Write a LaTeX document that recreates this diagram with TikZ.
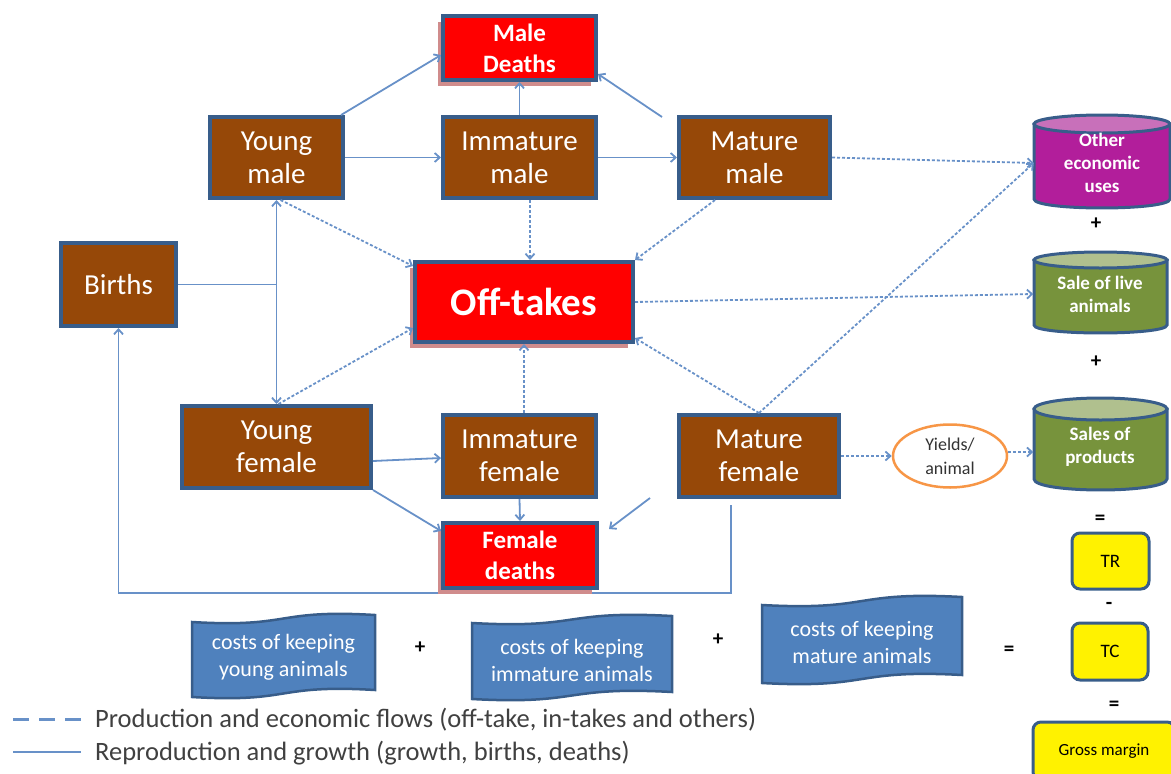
\documentclass[tikz,border=0pt]{standalone}
\usepackage{fontspec}
\setmainfont{Carlito}
\usetikzlibrary{arrows.meta,shapes.geometric,shadows}
\definecolor{brownc}{RGB}{150,72,8}
\definecolor{bord}{RGB}{56,93,138}
\definecolor{linec}{RGB}{104,145,200}
\definecolor{shadc}{RGB}{208,140,140}
\definecolor{purpc}{RGB}{178,30,155}
\definecolor{purptop}{RGB}{200,112,186}
\definecolor{greenc}{RGB}{119,147,60}
\definecolor{greentop}{RGB}{176,192,142}
\definecolor{wavec}{RGB}{79,129,189}
\definecolor{orangec}{RGB}{247,150,70}
\definecolor{legc}{RGB}{64,64,64}
\pgfdeclarelayer{bg}
\pgfsetlayers{bg,main}
\newcommand{\drawwave}[5]{%
  \pgfmathsetmacro\wA{#1+0.55*(#2-#1)}%
  \pgfmathsetmacro\wB{#1+0.45*(#2-#1)}%
  \filldraw[wavestyle] (#1,#3) .. controls (\wA,#3+6) and (\wB,#4-6) .. (#2,#4)
    -- (#2,#4+#5) .. controls (\wB,#4+#5-6) and (\wA,#3+#5+6) .. (#1,#3+#5) -- cycle;}
\newcommand{\drawcyl}[7]{% x0 x1 ytop ybot ry body top
  \pgfmathsetmacro\cA{(#1+#2)/2}%
  \pgfmathsetmacro\cR{(#2-#1)/2}%
  \filldraw[draw=bord,line width=3pt,fill=#6] (#1,#3) -- (#1,#4)
    .. controls (#1,#4+1.33*#5) and (#2,#4+1.33*#5) .. (#2,#4) -- (#2,#3) -- cycle;
  \filldraw[draw=bord,line width=3pt,fill=#7] (\cA,#3) ellipse [x radius=\cR pt, y radius=#5 pt];}
\begin{document}
\begin{tikzpicture}[x=1pt,y=-1pt,
  >={Straight Barb[length=5pt,width=9pt]},
  brownbox/.style={draw=bord,line width=4pt,fill=brownc,text=white,align=center,inner sep=0pt,font=\fontsize{29}{33}\selectfont},
  redbox/.style={draw=bord,line width=4pt,fill=red,text=white,align=center,inner sep=0pt,font=\bfseries\fontsize{25}{31}\selectfont,drop shadow={shadow xshift=-5pt,shadow yshift=-6pt,fill=shadc,opacity=1}},
  cyltext/.style={text=white,align=center,inner sep=0pt,font=\bfseries\fontsize{19}{23}\selectfont},
  yelbox/.style={draw=bord,line width=3pt,fill=yellow,rounded corners=8pt,inner sep=0pt,font=\fontsize{19}{23}\selectfont},
  wavestyle/.style={draw=bord,line width=2.5pt,fill=wavec},
  costtext/.style={text=white,align=center,inner sep=0pt,font=\fontsize{22}{27}\selectfont},
  optext/.style={inner sep=0pt,font=\bfseries\fontsize{21}{21}\selectfont},
  flow/.style={draw=linec,line width=1.8pt,->},
  econ/.style={flow,dash pattern=on 3pt off 2pt},
  legtext/.style={anchor=west,inner sep=0pt,text=legc,font=\fontsize{26.5}{26.5}\selectfont}
]
\useasboundingbox (0,0) rectangle (1171,774);
\clip (0,0) rectangle (1171,774);

% population boxes
\node[brownbox,minimum width=133pt,minimum height=81pt] (ym) at (276.5,157.5) {Young\\male};
\node[brownbox,minimum width=153pt,minimum height=81pt] (im) at (519.5,157.5) {Immature\\male};
\node[brownbox,minimum width=151pt,minimum height=81pt] (mm) at (754.5,157.5) {Mature\\male};
\node[brownbox,minimum width=115pt,minimum height=83pt] (births) at (118.5,284.5) {Births};
\node[brownbox,minimum width=189pt,minimum height=82pt] (yf) at (276.5,447) {Young\\female};
\node[brownbox,minimum width=153pt,minimum height=82pt] (imf) at (519.5,456) {Immature\\female};
\node[brownbox,minimum width=160pt,minimum height=82pt] (mf) at (759,456) {Mature\\female};

\node[redbox,minimum width=153pt,minimum height=64pt] (maled) at (519.5,48) {Male\\Deaths};
\node[redbox,minimum width=218pt,minimum height=80pt,font=\bfseries\fontsize{39}{39}\selectfont] (off) at (524,302) {Off-takes};
\node[redbox,minimum width=154pt,minimum height=65pt] (femd) at (520,555.5) {Female\\deaths};

\node[ellipse,draw=orangec,line width=2.5pt,fill=white,minimum width=114pt,minimum height=63pt,inner sep=0pt,align=center,text=black!80,font=\fontsize{18}{24}\selectfont] (yields) at (950,456) {Yields/\\animal};

% cylinders
\drawcyl{1034}{1170}{124}{199}{9}{purpc}{purptop}
\drawcyl{1034}{1167}{260}{325}{8}{greenc}{greentop}
\drawcyl{1034}{1167}{409}{479}{11}{greenc}{greentop}
\node[cyltext,minimum width=136pt,minimum height=92pt] (oth) at (1102,163) {Other\\economic\\uses};
\node[cyltext,minimum width=133pt,minimum height=81pt] (sale) at (1100,294) {Sale of live\\animals};
\node[cyltext,minimum width=133pt,minimum height=91pt] (prod) at (1100,447) {Sales of\\products};

\node[optext] (p1) at (1096,224) {+};
\node[optext] (p2) at (1096,362) {+};
\node[optext] (e1) at (1100,520) {=};
\node[yelbox,minimum width=77pt,minimum height=56pt] (tr) at (1110.5,561) {TR};
\node[optext] (m1) at (1109,606) {-};
\node[yelbox,minimum width=76pt,minimum height=57pt] (tc) at (1110,651.5) {TC};
\node[optext] (e2) at (1114,706) {=};
\node[yelbox,minimum width=142pt,minimum height=58pt,font=\fontsize{17}{20}\selectfont] (gm) at (1104,751) {Gross margin};

% cost shapes
\drawwave{192}{375}{622}{615}{75}
\drawwave{472}{672}{623}{616}{76}
\drawwave{762}{962}{605}{597}{78}
\node[costtext] (cy) at (283.5,657) {costs of keeping\\young animals};
\node[costtext] (ci) at (572,660) {costs of keeping\\immature animals};
\node[costtext] (cm) at (862,642) {costs of keeping\\mature animals};
\node[optext] (p3) at (420,648) {+};
\node[optext] (p4) at (718,640) {+};
\node[optext] (e3) at (1009,651) {=};

% reproduction and growth
\coordinate (bj) at (276.5,284.5);
\coordinate (mmx) at (662,117);
\coordinate (fdx) at (650,498);
\coordinate (lp1) at (731,505);
\coordinate (lp2) at (731,593);
\coordinate (lp3) at (118.5,593);
\begin{pgfonlayer}{bg}
\draw[flow] (lp1) -- (lp2) -- (lp3) -- (births.south);
\end{pgfonlayer}
\draw[flow] ([xshift=-4pt]ym.north east) -- ([yshift=-7pt]maled.west);
\draw[flow] (ym.east) -- (im.west);
\draw[flow] (im.north) -- (maled.south);
\draw[flow] (mmx) -- ([yshift=8pt]maled.south east);
\draw[flow] (im.east) -- (mm.west);
\draw[flow,-] (births.east) -- (bj);
\draw[flow,<->] (ym.south) -- (yf.north);
\draw[flow] ([yshift=-14pt]yf.east) -- ([yshift=-2pt]imf.west);
\draw[flow] (yf.south east) -- ([yshift=-10pt]femd.north west);
\draw[flow] (imf.south) -- (femd.north);
\draw[flow] (fdx) -- ([xshift=10pt,yshift=-8pt]femd.north east);

% production and economic flows
\draw[econ] ([xshift=4pt]ym.south) -- ([yshift=-6pt]off.north west);
\draw[econ] ([xshift=2pt]yf.north) -- ([yshift=16pt]off.south west);
\draw[econ] ([xshift=10.5pt]im.south) -- ([xshift=6pt]off.north);
\draw[econ] ([xshift=-39.5pt]mm.south) -- (off.north east);
\draw[econ] (imf.north -| off.south) -- (off.south);
\draw[econ] (mf.north) -- ([yshift=6pt]off.south east);
\draw[econ] (off.east) -- (sale.west);
\draw[econ] (mm.east) -- (oth.west);
\draw[econ] (mf.north) -- (oth.west);
\draw[econ] (mf.east) -- (yields.west);
\draw[econ] ([yshift=4pt]yields.east) -- ([yshift=4pt]yields.east -| prod.west);

% legend
\coordinate (la1) at (13,719);
\coordinate (la2) at (81,719);
\coordinate (lb1) at (13,752);
\coordinate (lb2) at (81,752);
\draw[draw=linec,line width=3pt,dash pattern=on 16pt off 10pt] (la1) -- (la2);
\draw[draw=linec,line width=2.5pt] (lb1) -- (lb2);
\node[legtext] (leg1) at (95,720) {Production and economic flows (off-take, in-takes and others)};
\node[legtext] (leg2) at (95,753) {Reproduction and growth (growth, births, deaths)};
\end{tikzpicture}
\end{document}
